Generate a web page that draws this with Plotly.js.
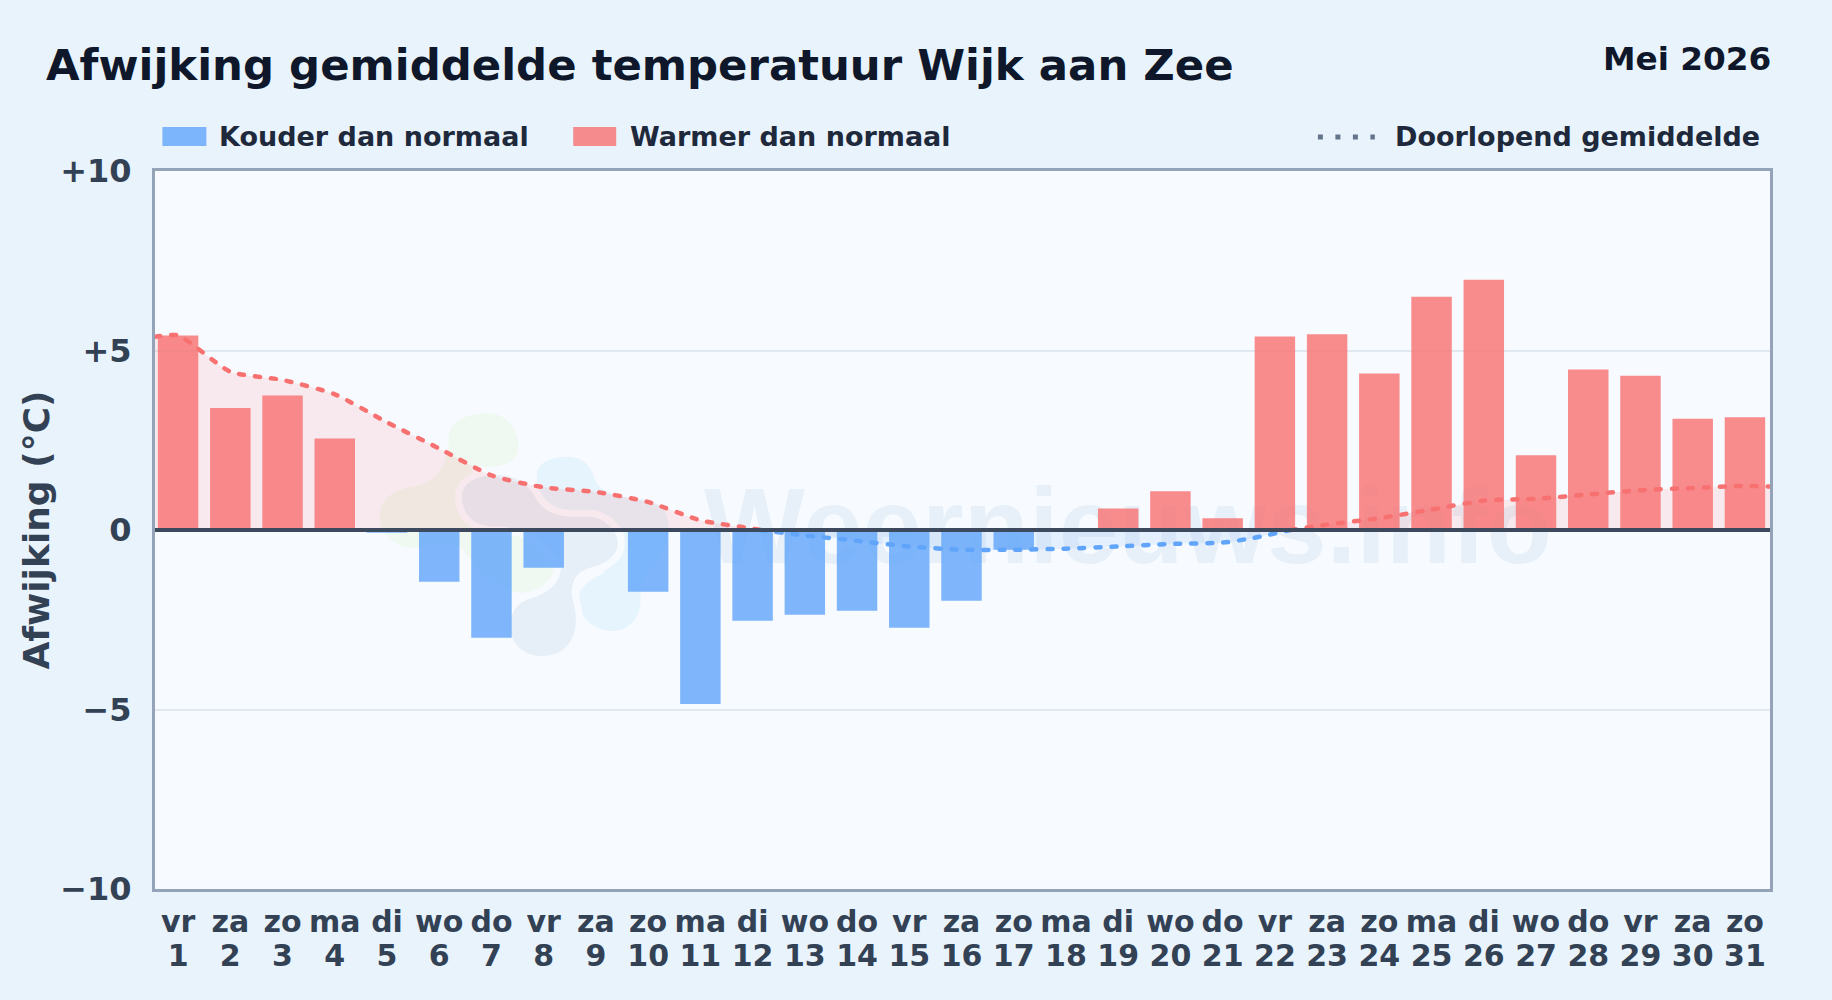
<!DOCTYPE html>
<html><head><meta charset="utf-8">
<script src="https://cdn.plot.ly/plotly-3.0.1.min.js"></script>
<style>html,body{margin:0;padding:0;background:#e8f3fc}#chart{width:1832px;height:1000px}.js-line{stroke-linecap:round}</style>
</head><body><div id="chart"></div>
<script>
const W = 1832, H = 1000;
const L = 154.6, R = 1770.3, T = 171, B = 889;
const weekdays = ["vr","za","zo","ma","di","wo","do","vr","za","zo","ma","di","wo","do","vr","za","zo","ma","di","wo","do","vr","za","zo","ma","di","wo","do","vr","za","zo"];
const days = [1,2,3,4,5,6,7,8,9,10,11,12,13,14,15,16,17,18,19,20,21,22,23,24,25,26,27,28,29,30,31];
const anomalies = [5.42,3.40,3.75,2.55,-0.08,-1.44,-3.00,-1.05,0,-1.72,-4.85,-2.53,-2.36,-2.25,-2.72,-1.97,-0.55,0,0.60,1.08,0.33,5.39,5.45,4.36,6.50,6.97,2.08,4.47,4.30,3.10,3.14];
// running mean, split where it crosses zero
const warmMeanX1 = [-0.44,0,1,2,3,4,5,6,7,8,9,10,11,11.15];
const warmMeanY1 = [5.38,5.42,4.41,4.18,3.78,3.00,2.27,1.52,1.19,1.06,0.78,0.27,0.04,0];
const coldMeanX = [11.15,12,13,14,15,16,17,18,19,20,20.6,21.3];
const coldMeanY = [0,-0.15,-0.30,-0.46,-0.55,-0.55,-0.52,-0.46,-0.39,-0.35,-0.22,0];
const warmMeanX2 = [21.3,22,23,24,25,26,27,28,29,30,30.48];
const warmMeanY2 = [0,0.15,0.33,0.57,0.82,0.87,0.99,1.11,1.17,1.23,1.21];
const yTickVals = [10,5,0,-5,-10];
const yTickText = ["+10","+5","0","−5","−10"];

const idx = days.map((d,i)=>i);
const coldIdx = idx.filter(i=>anomalies[i]<0), warmIdx = idx.filter(i=>anomalies[i]>0);
const px = x=>(x-L)/(R-L), py = y=>(B-y)/(B-T);
const FONT = "'DejaVu Sans', sans-serif";
const RED = "rgba(248,113,113,0.8)", BLUE = "rgba(96,165,250,0.8)";
const PLOTBG = "#f7fbff";

// watermark logo: outlines drawn in page pixels, converted to paper space
const greyPath = "M305,290 C305,250 345,225 410,225 C470,225 510,260 530,300 C560,345 610,355 680,350 C730,348 773,390 773,430 C773,470 730,495 690,503 C640,515 625,560 640,610 C660,680 640,768 545,768 C490,768 450,730 450,680 C450,640 470,610 500,600 C570,580 610,540 600,490 C570,420 480,375 400,380 C340,380 305,340 305,290 Z";
const logoPaths = [
 {c:"#eff8f1", s:0, d:"M265,110 C265,60 330,40 385,40 C440,40 475,90 475,140 C475,185 430,200 385,200 C345,200 320,190 340,220 L420,300 L520,400 L580,510 C585,550 530,578 480,578 C420,578 350,500 300,440 C250,430 200,443 160,443 C100,443 58,400 58,350 C58,310 90,270 150,262 C220,255 270,200 265,110 Z"},
 {c:"#e6f4fd", s:0, d:"M530,225 C530,190 570,170 620,170 C670,170 690,195 705,240 C725,290 800,290 860,300 C910,310 930,350 925,400 C915,470 860,500 840,570 C850,650 810,693 755,693 C700,693 655,650 655,600 C655,560 690,540 730,520 L780,430 L680,350 L560,340 C530,300 530,270 530,225 Z"},
 {c:PLOTBG, s:14, d:greyPath},
 {c:"#e6eff7", s:0, d:greyPath}
];
const toPaper = d => d.replace(/(-?\d+(?:\.\d+)?),(-?\d+(?:\.\d+)?)/g,(m,a,b)=>px(360+a/3).toFixed(5)+","+py(400+b/3).toFixed(5));

const shapes = logoPaths.map(p=>({type:"path",layer:"below",xref:"paper",yref:"paper",path:toPaper(p.d),fillcolor:p.c,line:p.s?{color:PLOTBG,width:p.s}:{width:0}}));
// watermark text
shapes.push({type:"rect",layer:"below",xref:"x",yref:"y",x0:10.09,x1:26.29,y0:-1.11,y1:1.89,fillcolor:"rgba(0,0,0,0)",line:{width:0},
  label:{text:"Weernieuws.info",textposition:"middle center",font:{family:"'Liberation Sans', sans-serif",size:107,weight:700,color:"rgba(100,150,200,0.10)"}}});
// legend swatches
shapes.push({type:"rect",xref:"paper",yref:"paper",x0:px(162),x1:px(206),y0:py(146),y1:py(127),fillcolor:BLUE,line:{width:0}});
shapes.push({type:"rect",xref:"paper",yref:"paper",x0:px(573),x1:px(616),y0:py(146),y1:py(127),fillcolor:RED,line:{width:0}});
shapes.push({type:"line",xref:"paper",yref:"paper",x0:px(1318),x1:px(1375),y0:py(137),y1:py(137),line:{color:"#64748b",width:5,dash:"5px,12.5px"}});
// zero line
shapes.push({type:"line",layer:"above",xref:"paper",yref:"y",x0:0,x1:1,y0:0,y1:0,line:{color:"#3d4a5e",width:4}});

const ann = (t,x,y,size,color,xa)=>({text:t,xref:"paper",yref:"paper",x:px(x),y:py(y),xanchor:xa||"left",yanchor:"middle",showarrow:false,font:{family:FONT,size:size,weight:700,color:color}});

const meanFill = {warm:"rgba(248,113,113,0.13)",cold:"rgba(96,165,250,0.12)"};
const meanDash = "5px,11px";
const traces = [
 {type:"bar",name:"Kouder dan normaal",x:coldIdx,y:coldIdx.map(i=>anomalies[i]),width:0.775,marker:{color:BLUE,line:{width:0}},hoverinfo:"y"},
 {type:"bar",name:"Warmer dan normaal",x:warmIdx,y:warmIdx.map(i=>anomalies[i]),width:0.775,marker:{color:RED,line:{width:0}},hoverinfo:"y"},
 {type:"scatter",mode:"lines",x:warmMeanX1,y:warmMeanY1,fill:"tozeroy",fillcolor:meanFill.warm,line:{color:"#f87171",width:4.5,dash:meanDash,shape:"spline",smoothing:0.6}},
 {type:"scatter",mode:"lines",x:coldMeanX,y:coldMeanY,fill:"tozeroy",fillcolor:meanFill.cold,line:{color:"#60a5fa",width:4.5,dash:meanDash,shape:"spline",smoothing:0.6}},
 {type:"scatter",mode:"lines",xaxis:"x2",x:warmMeanX2,y:warmMeanY2,fill:"tozeroy",fillcolor:meanFill.warm,line:{color:"#f87171",width:4.5,dash:meanDash,shape:"spline",smoothing:0.6}}
];

const xRange = [-0.442,30.48];
const layout = {
 width:W,height:H,showlegend:false,barmode:"overlay",
 paper_bgcolor:"#e8f3fc",plot_bgcolor:PLOTBG,
 margin:{l:L,r:W-R,t:T,b:H-B,pad:0},
 font:{family:FONT,color:"#334155"},
 title:{text:"Afwijking gemiddelde temperatuur Wijk aan Zee",x:46/W,xanchor:"left",xref:"container",y:1-64.5/H,yanchor:"middle",yref:"container",font:{family:FONT,size:43.4,weight:700,color:"#0f172a"}},
 xaxis:{range:xRange,tickmode:"array",tickvals:idx,ticktext:weekdays,tickangle:0,tickfont:{family:FONT,size:30,weight:700,color:"#334155"},ticks:"outside",ticklen:3.5,tickcolor:"rgba(0,0,0,0)",showgrid:false,zeroline:false,showline:true,mirror:true,linecolor:"#94a3b8",linewidth:3,fixedrange:true},
 xaxis2:{range:xRange,overlaying:"x",anchor:"y",side:"bottom",tickmode:"array",tickvals:idx,ticktext:days.map(String),tickangle:0,tickfont:{family:FONT,size:30,weight:700,color:"#334155"},ticks:"outside",ticklen:3.5,tickcolor:"rgba(0,0,0,0)",ticklabelstandoff:36,showgrid:false,zeroline:false,showline:false,fixedrange:true},
 yaxis:{range:[-10,10],tickmode:"array",tickvals:yTickVals,ticktext:yTickText,tickfont:{family:FONT,size:32,weight:700,color:"#334155"},ticks:"outside",ticklen:14,tickcolor:"rgba(0,0,0,0)",showgrid:true,gridcolor:"#e2e8f0",gridwidth:2,zeroline:false,showline:true,mirror:true,linecolor:"#94a3b8",linewidth:3,fixedrange:true,
   title:{text:"Afwijking (°C)",font:{family:FONT,size:36,weight:700,color:"#334155"},standoff:0}},
 shapes:shapes,
 annotations:[
  ann("Mei 2026",1773,59,32.7,"#0f172a","right"),
  ann("Kouder dan normaal",217,136,27,"#1e293b"),
  ann("Warmer dan normaal",628,136,27,"#1e293b"),
  ann("Doorlopend gemiddelde",1762,136,27,"#1e293b","right")
 ]
};
Plotly.newPlot("chart",traces,layout,{displayModeBar:false,responsive:false});
</script></body></html>
